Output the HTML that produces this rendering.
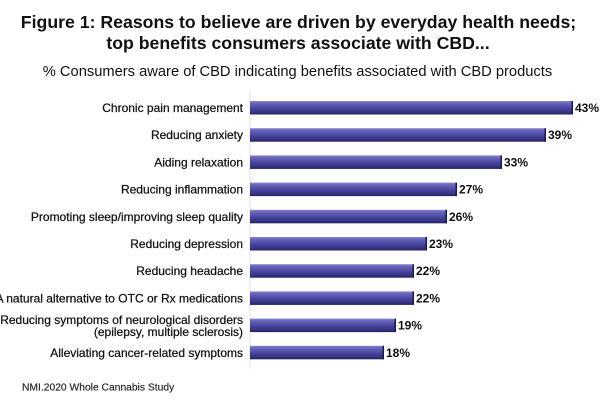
<!DOCTYPE html>
<html><head><meta charset="utf-8"><style>
html,body{margin:0;padding:0;background:#fff;}
svg{display:block;}
</style></head><body>
<svg width="600" height="400" viewBox="0 0 600 400" xmlns="http://www.w3.org/2000/svg">
<defs>
<linearGradient id="g" x1="0" y1="0" x2="0" y2="1">
<stop offset="0" stop-color="#8886cc"/>
<stop offset="0.15" stop-color="#6a68bc"/>
<stop offset="0.5" stop-color="#4b49a2"/>
<stop offset="0.85" stop-color="#34327f"/>
<stop offset="1" stop-color="#1f1d5c"/>
</linearGradient>
</defs>
<rect width="600" height="400" fill="#fff"/>
<g font-family="Liberation Sans, Arial, sans-serif" fill="#111">
<text x="298.5" y="28" text-anchor="middle" font-size="17.7" font-weight="bold">Figure 1: Reasons to believe are driven by everyday health needs;</text>
<text x="298" y="49" text-anchor="middle" font-size="17.7" font-weight="bold">top benefits consumers associate with CBD...</text>
<text x="297.5" y="76" text-anchor="middle" font-size="14.7">% Consumers aware of CBD indicating benefits associated with CBD products</text>
</g>
<line x1="250" y1="90" x2="250" y2="368" stroke="#e2e2e2" stroke-width="1"/>
<g>
<rect x="250" y="101" width="323" height="13.5" fill="url(#g)"/>
<rect x="250" y="128.2" width="296" height="13.5" fill="url(#g)"/>
<rect x="250" y="155.4" width="252" height="13.5" fill="url(#g)"/>
<rect x="250" y="182.6" width="207" height="13.5" fill="url(#g)"/>
<rect x="250" y="209.8" width="197" height="13.5" fill="url(#g)"/>
<rect x="250" y="237" width="177" height="13.5" fill="url(#g)"/>
<rect x="250" y="264.2" width="164" height="13.5" fill="url(#g)"/>
<rect x="250" y="291.4" width="164" height="13.5" fill="url(#g)"/>
<rect x="250" y="318.6" width="146" height="13.5" fill="url(#g)"/>
<rect x="250" y="345.8" width="134" height="13.5" fill="url(#g)"/>
</g>
<g fill="#1a1848">
<rect x="571.5" y="101" width="1.5" height="13.5"/>
<rect x="544.5" y="128.2" width="1.5" height="13.5"/>
<rect x="500.5" y="155.4" width="1.5" height="13.5"/>
<rect x="455.5" y="182.6" width="1.5" height="13.5"/>
<rect x="445.5" y="209.8" width="1.5" height="13.5"/>
<rect x="425.5" y="237" width="1.5" height="13.5"/>
<rect x="412.5" y="264.2" width="1.5" height="13.5"/>
<rect x="412.5" y="291.4" width="1.5" height="13.5"/>
<rect x="394.5" y="318.6" width="1.5" height="13.5"/>
<rect x="382.5" y="345.8" width="1.5" height="13.5"/>
</g>
<g font-family="Liberation Sans, Arial, sans-serif" font-size="12" fill="#111" stroke="#111" stroke-width="0.25" text-anchor="end">
<text x="243" y="112">Chronic pain management</text>
<text x="243" y="139.2">Reducing anxiety</text>
<text x="243" y="166.4">Aiding relaxation</text>
<text x="243" y="193.6">Reducing inflammation</text>
<text x="243" y="220.8">Promoting sleep/improving sleep quality</text>
<text x="243" y="248">Reducing depression</text>
<text x="243" y="275.2">Reducing headache</text>
<text x="243" y="302.4">A natural alternative to OTC or Rx medications</text>
<text x="243" y="324">Reducing symptoms of neurological disorders</text>
<text x="243" y="336">(epilepsy, multiple sclerosis)</text>
<text x="243" y="356.8">Alleviating cancer-related symptoms</text>
</g>
<g font-family="Liberation Sans, Arial, sans-serif" font-size="12" font-weight="bold" fill="#111">
<text x="575" y="112">43%</text>
<text x="548" y="139.2">39%</text>
<text x="504" y="166.4">33%</text>
<text x="459" y="193.6">27%</text>
<text x="449" y="220.8">26%</text>
<text x="429" y="248">23%</text>
<text x="416" y="275.2">22%</text>
<text x="416" y="302.4">22%</text>
<text x="398" y="329.6">19%</text>
<text x="386" y="356.8">18%</text>
</g>
<text x="22" y="390.5" font-family="Liberation Sans, Arial, sans-serif" font-size="10.3" fill="#222" stroke="#222" stroke-width="0.15">NMI.2020 Whole Cannabis Study</text>
</svg>
</body></html>
